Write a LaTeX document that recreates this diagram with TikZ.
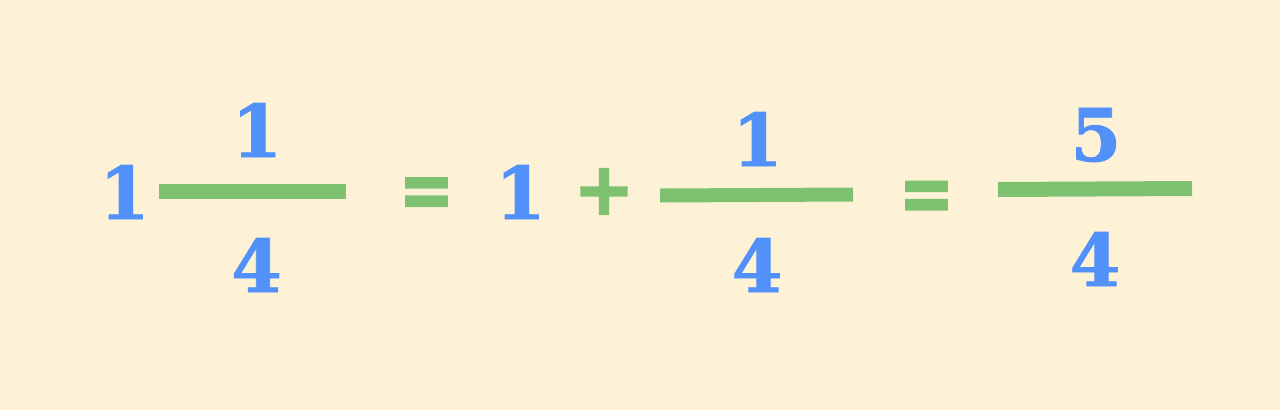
\documentclass[tikz,border=0pt]{standalone}
\usepackage{fontspec}
\setmainfont{DejaVu Serif}[BoldFeatures={FakeBold=1.2}]
\newfontfamily\opfont{DejaVu Sans}[BoldFeatures={FakeBold=2.5}]
\definecolor{bgc}{RGB}{253,242,214}
\definecolor{bluec}{RGB}{82,145,250}
\definecolor{greenc}{RGB}{126,193,112}
\begin{document}
\begin{tikzpicture}[x=1bp,y=-1bp,
  digit/.style={inner sep=0pt,anchor=base,text=bluec,font=\fontsize{73}{73}\selectfont\bfseries},
  op/.style={inner sep=0pt,anchor=center,text=greenc,font=\fontsize{66}{66}\selectfont\opfont\bfseries},
  fracbar/.style={draw=greenc,line width=15bp}]
\fill[bgc] (0,0) rectangle (1280,410);
\useasboundingbox (0,0) rectangle (1280,410);
% first mixed number
\node[digit] (w1) at (124.5,219) {1};
\coordinate (b1l) at (159,191.5);
\coordinate (b1r) at (346,191.5);
\draw[fracbar] (b1l) -- (b1r);
\node[digit] (n1) at (257,157) {1};
\node[digit] (d1) at (256.5,292) {4};
\node[op] (eq1) at (426.5,198) {\scalebox{1}[1.25]{=}};
% second
\node[digit] (w2) at (520.5,219) {1};
\node[op] (plus) at (604,191.5) {\scalebox{1.1}{+}};
\coordinate (b2l) at (660,195.5);
\coordinate (b2r) at (853,194.5);
\draw[fracbar,line width=14bp] (b2l) -- (b2r);
\node[digit] (n2) at (757.5,166) {1};
\node[digit] (d2) at (757,292) {4};
\node[op] (eq2) at (926.5,201.5) {\scalebox{1}[1.25]{=}};
% third
\coordinate (b3l) at (998,189.5);
\coordinate (b3r) at (1192,188.5);
\draw[fracbar] (b3l) -- (b3r);
\node[digit] (n3) at (1096,161) {5};
\node[digit] (d3) at (1095,286) {4};
\end{tikzpicture}
\end{document}
